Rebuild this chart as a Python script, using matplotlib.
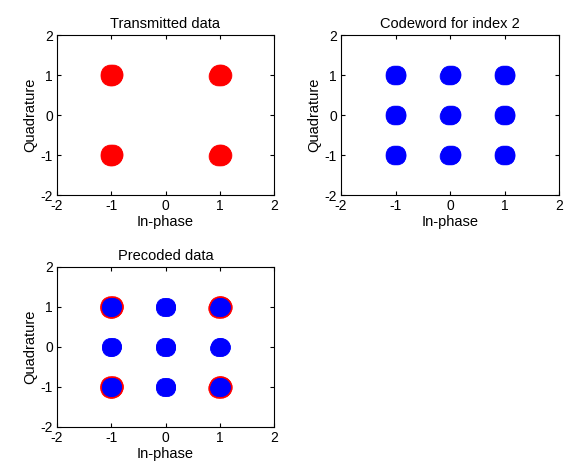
import matplotlib
matplotlib.use("Agg")
import matplotlib.pyplot as plt

plt.rcParams['font.family'] = ['Liberation Sans', 'DejaVu Sans']
plt.rcParams['axes.unicode_minus'] = False

# constellation centres
tx_i = [-1, -1, 1, 1]
tx_q = [1, -1, 1, -1]
cw_i = [-1, 0, 1, -1, 0, 1, -1, 0, 1]
cw_q = [1, 1, 1, 0, 0, 0, -1, -1, -1]

titles = ["Transmitted data", "Codeword for index 2", "Precoded data"]
ticks = [-2, -1, 0, 1, 2]

# small fixed offsets giving each cluster its ragged edge
spread = [(0.0, 0.0), (0.03, 0.015), (-0.03, -0.015), (0.02, -0.03), (-0.02, 0.03), (0.035, -0.01)]


def cluster(ax, xs, ys, color, size):
    for dx, dy in spread:
        ax.plot([x + dx for x in xs], [y + dy for y in ys], 'o', ls='none',
                ms=size, mfc=color, mec=color, mew=0.6)


def style(ax, title):
    ax.set_xlim(-2, 2)
    ax.set_ylim(-2, 2)
    ax.set_xticks(ticks)
    ax.set_yticks(ticks)
    ax.tick_params(direction='in', length=3, labelsize=10, top=True, right=True, pad=3)
    ax.set_xlabel("In-phase", fontsize=10.5, labelpad=1)
    ax.set_ylabel("Quadrature", fontsize=10.5, labelpad=2)
    ax.set_title(title, fontsize=10.5, pad=5)
    for s in ax.spines.values():
        s.set_linewidth(0.8)


W, H = 566, 468
fig = plt.figure(figsize=(W / 100, H / 100), dpi=100)

ax1 = fig.add_axes([57 / W, 1 - 195 / H, 217 / W, 160 / H])
ax2 = fig.add_axes([341 / W, 1 - 195 / H, 218 / W, 160 / H])
ax3 = fig.add_axes([57 / W, 1 - 427 / H, 217 / W, 160 / H])

cluster(ax1, tx_i, tx_q, 'red', 13.5)
cluster(ax2, cw_i, cw_q, 'blue', 12)
cluster(ax3, tx_i, tx_q, 'red', 14)
cluster(ax3, cw_i, cw_q, 'blue', 11.5)

for ax, t in zip([ax1, ax2, ax3], titles):
    style(ax, t)

fig.savefig("out.png", dpi=100)
